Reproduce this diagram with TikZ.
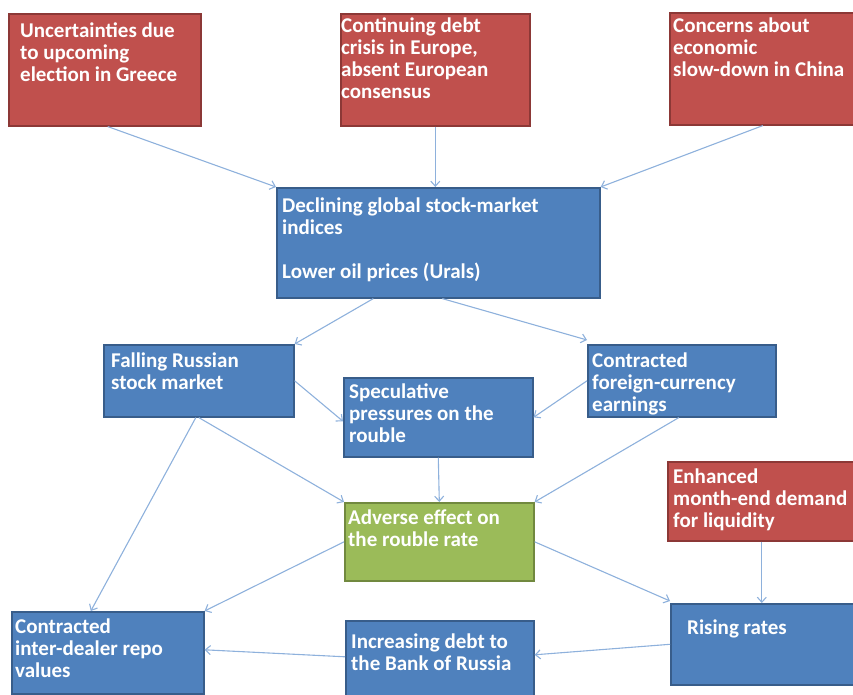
\documentclass[tikz,border=0pt]{standalone}
\usepackage{fontspec}
\setmainfont{Carlito}
\usetikzlibrary{arrows.meta}
\definecolor{redF}{HTML}{C0504D}
\definecolor{redD}{HTML}{8C3836}
\definecolor{bluF}{HTML}{4F81BD}
\definecolor{bluD}{HTML}{385D8A}
\definecolor{grnF}{HTML}{9BBB59}
\definecolor{grnD}{HTML}{71893F}
\definecolor{conn}{HTML}{8EB1DC}
\newcommand{\fl}{\rule{0pt}{16pt}}
\tikzset{
  box/.style={rectangle, line width=1.6pt, inner sep=0pt, anchor=north west},
  redbox/.style={box, fill=redF, draw=redD},
  blubox/.style={box, fill=bluF, draw=bluD},
  grnbox/.style={box, fill=grnF, draw=grnD},
  txt/.style={anchor=north west, inner sep=0pt, text=white, align=left,
    font=\fontsize{21}{22}\selectfont\bfseries},
  arr/.style={draw=conn, line width=1.1pt, -{Straight Barb[length=5pt,width=9pt]}}
}
\begin{document}
\begin{tikzpicture}[x=1pt,y=-1pt]
\useasboundingbox (0,0) rectangle (853,695);
% boxes
\node[redbox, minimum width=192pt, minimum height=112pt] (A) at (8,13) {};
\node[redbox, minimum width=189pt, minimum height=112pt] (B) at (340,13) {};
\node[redbox, minimum width=186pt, minimum height=112pt] (C) at (669,12) {};
\node[blubox, minimum width=323pt, minimum height=110pt] (D) at (276,187) {};
\node[blubox, minimum width=190pt, minimum height=72pt] (E) at (103,344) {};
\node[blubox, minimum width=189pt, minimum height=79pt] (F) at (343,377) {};
\node[blubox, minimum width=188pt, minimum height=72pt] (G) at (587,344) {};
\node[redbox, minimum width=188pt, minimum height=79pt] (H) at (667,461) {};
\node[grnbox, minimum width=189pt, minimum height=78pt] (I) at (344,502) {};
\node[blubox, minimum width=192pt, minimum height=82pt] (J) at (11,611) {};
\node[blubox, minimum width=188pt, minimum height=78pt] (K) at (345,620) {};
\node[blubox, minimum width=185pt, minimum height=81pt] (L) at (670,603) {};
% texts
\node[txt] (tA) at (20,21) {\fl Uncertainties due\\to upcoming\\election in Greece};
\node[txt] (tB) at (341,16) {\fl Continuing debt\\crisis in Europe,\\absent European\\consensus};
\node[txt] (tC) at (673,16) {\fl Concerns about\\economic\\slow-down in China};
\node[txt] (tD) at (282,196) {\fl Declining global stock-market\\indices\\[22pt]Lower oil prices (Urals)};
\node[txt] (tE) at (111,351) {\fl Falling Russian\\stock market};
\node[txt] (tF) at (349,382) {\fl Speculative\\pressures on the\\rouble};
\node[txt] (tG) at (592,351) {\fl Contracted\\foreign-currency\\earnings};
\node[txt] (tH) at (673,467) {\fl Enhanced\\month-end demand\\for liquidity};
\node[txt] (tI) at (348,508) {\fl Adverse effect on\\the rouble rate};
\node[txt] (tJ) at (15,617) {\fl Contracted\\inter-dealer repo\\values};
\node[txt] (tK) at (351,632) {\fl Increasing debt to\\the Bank of Russia};
\node[txt] (tL) at (687,618) {\fl Rising rates};
% connectors
\draw[arr] ([xshift=3pt]A.south) -- (D.north west);
\draw[arr] (B.south) -- (B.south |- D.north);
\draw[arr] (C.south) -- (D.north east);
\draw[arr] ([xshift=-65pt]D.south) -- (E.north east);
\draw[arr] ([xshift=4pt]D.south) -- ([yshift=4pt]G.north west);
\draw[arr] (E.east) -- ([yshift=-4pt]F.west);
\draw[arr] (G.west) -- (F.east);
\draw[arr] (E.south) -- (I.north west);
\draw[arr] (F.south) -- (I.north);
\draw[arr] ([xshift=-3pt]G.south) -- (I.north east);
\draw[arr] ([xshift=-3pt]E.south) -- ([xshift=-17pt]J.north);
\draw[arr] (I.west) -- (J.north east);
\draw[arr] (I.east) -- ([yshift=2pt]L.north west);
\draw[arr] (H.south) -- (H.south |- L.north);
\draw[arr] (L.west) -- ([yshift=5pt]K.east);
\draw[arr] ([yshift=3pt]K.west) -- ([yshift=3pt]J.east);
\end{tikzpicture}
\end{document}
